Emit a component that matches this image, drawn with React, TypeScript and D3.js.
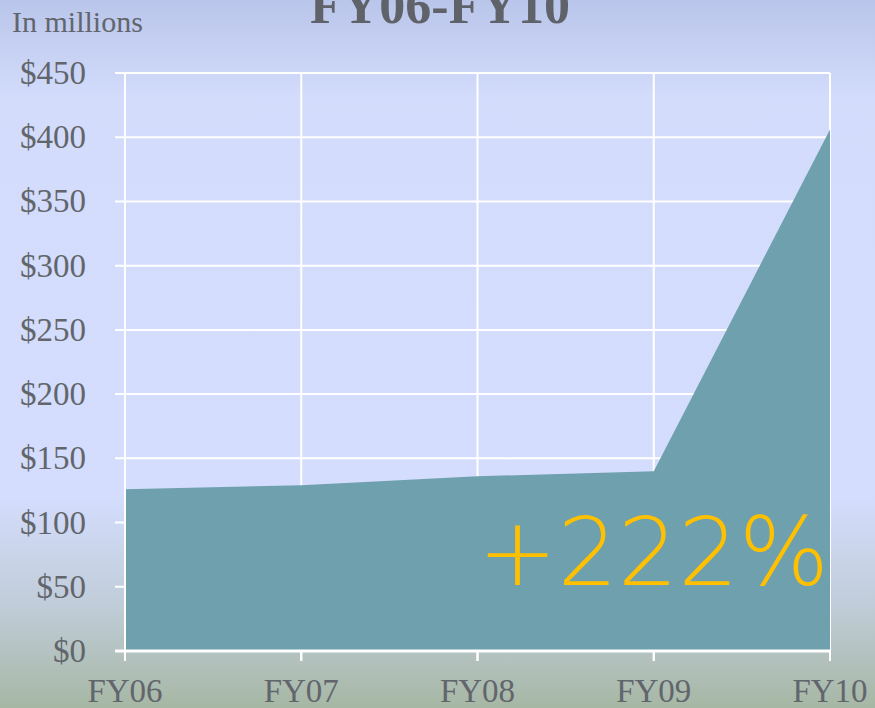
import React from 'react';
import * as d3 from 'd3';

const years = ['FY06', 'FY07', 'FY08', 'FY09', 'FY10'];
const revenue = [126, 129, 136, 140, 406];
const yTicks = [0, 50, 100, 150, 200, 250, 300, 350, 400, 450];

const W = 875;
const H = 708;
const margin = { top: 73, right: 45, bottom: 57, left: 125 };

export default function App() {
  const x = d3.scalePoint<string>()
    .domain(years)
    .range([margin.left, W - margin.right]);

  const y = d3.scaleLinear()
    .domain([0, 450])
    .range([H - margin.bottom, margin.top]);

  const area = d3.area<number>()
    .x((_, i) => x(years[i])!)
    .y0(y(0))
    .y1(d => y(d));

  const x0 = margin.left;
  const x1 = W - margin.right;

  return (
    <svg width={W} height={H} style={{ position: 'fixed', left: 0, top: 0 }}>
      <defs>
        <linearGradient id="bg" x1="0" y1="0" x2="0" y2="1">
          <stop offset="0" stopColor="#b9c5ea" />
          <stop offset="0.14" stopColor="#d3dcfb" />
          <stop offset="0.70" stopColor="#d4ddfd" />
          <stop offset="0.85" stopColor="#c1cdda" />
          <stop offset="1" stopColor="#a6b7a4" />
        </linearGradient>
      </defs>
      <rect width={W} height={H} fill="url(#bg)" />

      {/* title, cut off at the top like the original */}
      <text x={440} y={23} textAnchor="middle" fontFamily="Liberation Serif" fontWeight="bold"
        fontSize={52} fill="#5f6369">FY06-FY10</text>
      <text x={12} y={32} fontFamily="Liberation Serif" fontSize={30} fill="#62666c">In millions</text>

      {/* gridlines */}
      {yTicks.map(t => (
        <line key={'h' + t} x1={x0 - 10} x2={x1} y1={y(t)} y2={y(t)} stroke="#fff" strokeWidth={2} />
      ))}
      {years.map(yr => (
        <line key={'v' + yr} x1={x(yr)} x2={x(yr)} y1={margin.top} y2={y(0) + 10} stroke="#fff" strokeWidth={2} />
      ))}

      <path d={area(revenue)!} fill="#6fa0ae" />

      {/* axis lines */}
      <line x1={x0 - 10} x2={x1} y1={y(0)} y2={y(0)} stroke="#fff" strokeWidth={3} />
      <line x1={x0} x2={x0} y1={margin.top} y2={y(0) + 10} stroke="#fff" strokeWidth={2} />
      {years.map(yr => (
        <line key={'t' + yr} x1={x(yr)} x2={x(yr)} y1={y(0)} y2={y(0) + 10} stroke="#fff" strokeWidth={2} />
      ))}

      {yTicks.map(t => (
        <text key={'l' + t} x={86} y={y(t) + 11} textAnchor="end" fontFamily="Liberation Serif"
          fontSize={33} fill="#62666c">${t}</text>
      ))}
      {years.map(yr => (
        <text key={'xl' + yr} x={x(yr)} y={702} textAnchor="middle" fontFamily="Liberation Serif"
          fontSize={33} fill="#62666c">{yr}</text>
      ))}

      <text x={829} y={585} textAnchor="end" fontFamily="DejaVu Sans" fontWeight={200}
        fontSize={95} fill="#ffc000">+222%</text>
    </svg>
  );
}
